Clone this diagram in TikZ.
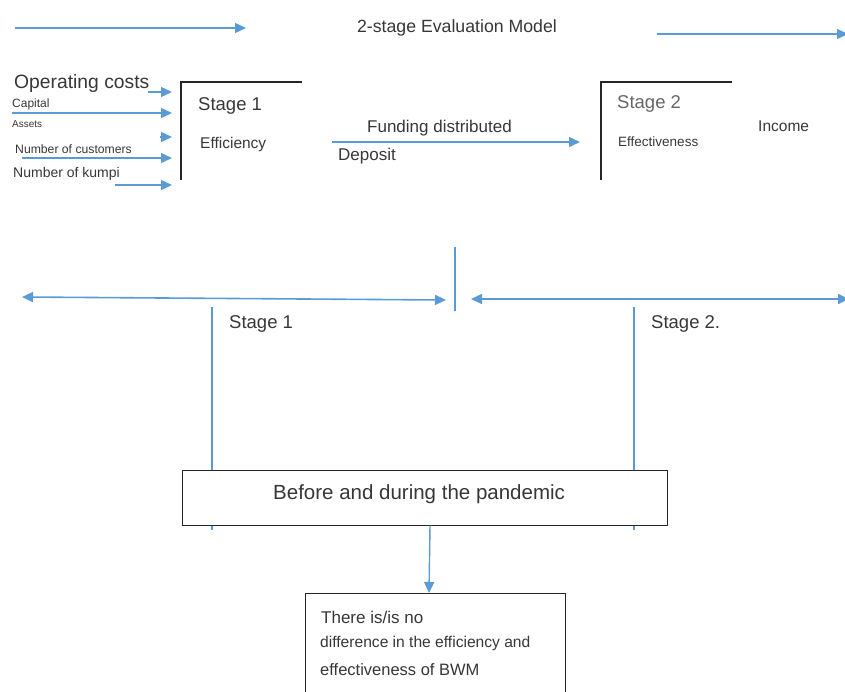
\documentclass[tikz,border=0pt]{standalone}
\usepackage{fontspec}
\setmainfont{Liberation Sans}
\usetikzlibrary{arrows.meta}
\definecolor{ablue}{RGB}{91,155,213}
\definecolor{txt}{RGB}{55,55,55}
\begin{document}
\begin{tikzpicture}[x=1pt,y=-1pt,
  barrow/.style={draw=ablue,line width=1.4pt,-{Triangle[length=11pt,width=10pt]}},
  bdarrow/.style={draw=ablue,line width=1.6pt,{Triangle[length=11pt,width=10pt]}-{Triangle[length=11pt,width=10pt]}},
  bline/.style={draw=ablue,line width=1.2pt},
  bracket/.style={draw=black!85,line width=1.3pt},
  lbl/.style={anchor=base west,inner sep=0pt,text=txt},
  boxst/.style={draw=black!85,line width=1.2pt,fill=white}]
\useasboundingbox (0,0) rectangle (845,691);
% top
\coordinate (t1a) at (15,28); \coordinate (t1b) at (246,28);
\coordinate (t2a) at (657,34); \coordinate (t2b) at (848,34);
\draw[barrow] (t1a) -- (t1b);
\draw[barrow] (t2a) -- (t2b);
\node[anchor=base,inner sep=0pt,text=txt,font=\fontsize{17.7}{20}\selectfont] (title) at (457,32) {2-stage Evaluation Model};
% inputs
\node[lbl,font=\fontsize{19.3}{22}\selectfont] (opc) at (14,88) {Operating costs};
\node[lbl,font=\fontsize{12}{14}\selectfont] (cap) at (12,107) {Capital};
\node[lbl,font=\fontsize{10}{12}\selectfont] (ass) at (12,127) {Assets};
\node[lbl,font=\fontsize{12.2}{14}\selectfont] (noc) at (15,153) {Number of customers};
\node[lbl,font=\fontsize{14}{16}\selectfont] (nok) at (13,177) {Number of kumpi};
\coordinate (i1a) at (148,92); \coordinate (i1b) at (172,92);
\coordinate (i2a) at (12,113); \coordinate (i2b) at (172,113);
\coordinate (i3a) at (160,137); \coordinate (i3b) at (172,137);
\coordinate (i4a) at (22,158); \coordinate (i4b) at (172,158);
\coordinate (i5a) at (115,185); \coordinate (i5b) at (172,185);
\foreach \k in {1,...,5} {\draw[barrow] (i\k a) -- (i\k b);}
% stage 1 bracket
\coordinate (s1t) at (181,82); \coordinate (s1b) at (181,180); \coordinate (s1r) at (302,82);
\draw[bracket] (s1b) -- (s1t) -- (s1r);
\node[lbl,font=\fontsize{18.5}{22}\selectfont] (st1) at (198,110) {Stage 1};
\node[lbl,font=\fontsize{15.5}{18}\selectfont] (eff) at (200,148) {Efficiency};
% middle
\node[lbl,font=\fontsize{17}{20}\selectfont] (fund) at (367,132) {Funding distributed};
\node[lbl,font=\fontsize{17}{20}\selectfont] (dep) at (338,160) {Deposit};
\coordinate (ma) at (332,142); \coordinate (mb) at (580,142);
\draw[barrow] (ma) -- (mb);
% stage 2 bracket
\coordinate (s2t) at (601,82); \coordinate (s2b) at (601,180); \coordinate (s2r) at (732,82);
\draw[bracket] (s2b) -- (s2t) -- (s2r);
\node[lbl,font=\fontsize{18.5}{22}\selectfont,text=black!60] (st2) at (617,108) {Stage 2};
\node[lbl,font=\fontsize{13.5}{16}\selectfont] (effe) at (618,146) {Effectiveness};
\node[lbl,font=\fontsize{15.5}{18}\selectfont] (inc) at (758,131) {Income};
% divider and double arrows
\coordinate (dva) at (455,247); \coordinate (dvb) at (455,311);
\draw[bline] (dva) -- (dvb);
\coordinate (la) at (22,297); \coordinate (lb) at (446,300);
\draw[bdarrow] (la) -- (lb);
\coordinate (ra) at (471,299); \coordinate (rb) at (849,299);
\draw[bdarrow] (ra) -- (rb);
\coordinate (v1a) at (212,307); \coordinate (v1b) at (212,530);
\coordinate (v2a) at (634,307); \coordinate (v2b) at (634,530);
\draw[bline] (v1a) -- (v1b);
\draw[bline] (v2a) -- (v2b);
\node[lbl,font=\fontsize{18.5}{22}\selectfont] (lst1) at (229,328) {Stage 1};
\node[lbl,font=\fontsize{18.5}{22}\selectfont] (lst2) at (651,328) {Stage 2.};
% pandemic box
\node[boxst,minimum width=485pt,minimum height=55pt,inner sep=0pt,anchor=north west] (pan) at (182,470) {};
\node[lbl,font=\fontsize{20.5}{24}\selectfont] (pant) at (273,499) {Before and during the pandemic};
% conclusion box
\node[boxst,minimum width=260pt,minimum height=110pt,inner sep=0pt,anchor=north west] (conc) at (305,593) {};
\draw[barrow] (430,525.6) -- (conc.north -| 429,0);
\node[lbl,font=\fontsize{17}{20}\selectfont] (c1) at (321,623) {There is/is no};
\node[lbl,font=\fontsize{15.6}{18}\selectfont] (c2) at (320,647) {difference in the efficiency and};
\node[lbl,font=\fontsize{16.5}{18}\selectfont] (c3) at (320,675) {effectiveness of BWM};
\end{tikzpicture}
\end{document}
